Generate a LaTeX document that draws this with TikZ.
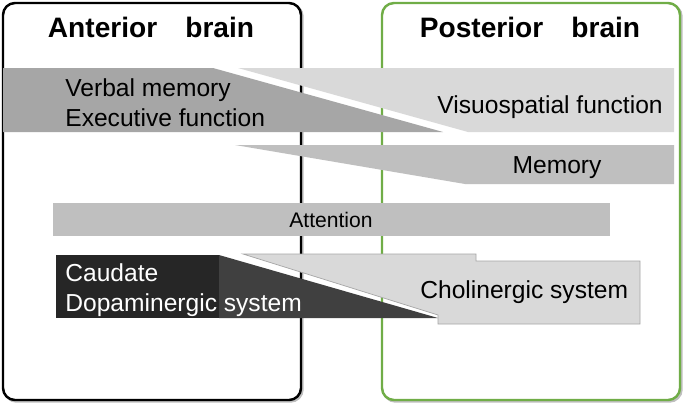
\documentclass[tikz,border=0pt]{standalone}
\usepackage{fontspec}
\setmainfont{Liberation Sans}
\definecolor{boxgreen}{HTML}{70AD47}
\definecolor{grayA}{HTML}{A6A6A6}
\definecolor{grayB}{HTML}{BFBFBF}
\definecolor{grayD}{HTML}{D9D9D9}
\definecolor{darkA}{HTML}{262626}
\definecolor{darkB}{HTML}{404040}
\begin{document}
\begin{tikzpicture}[x=0.02cm, y=-0.02cm,
		region/.style={rounded corners=0.24cm, line width=1.4pt},
		headtxt/.style={font=\fontsize{16}{19}\selectfont\bfseries, anchor=base, inner sep=0pt},
		txt/.style={font=\fontsize{14}{17}\selectfont, inner sep=0pt}]
	\useasboundingbox (0,0) rectangle (685,409);

	% the two halves of the brain
	\draw[region, black!25] (4.5,4.5) rectangle (302.5,401.5);
	\draw[region, black!25] (383.5,4.5) rectangle (681.5,401.5);
	\draw[region, fill=white] (3,3) rectangle (301,400);
	\draw[region, draw=boxgreen, fill=white] (382,3) rectangle (680,400);
	\node[headtxt] (anterior) at (151,37) {Anterior\hspace{1em}brain};
	\node[headtxt] (posterior) at (530,37) {Posterior\hspace{1em}brain};

	% functions
	\fill[grayA] (3,68) -- (213,68) -- (443,132) -- (3,132) -- cycle;
	\fill[grayD] (238,68) -- (674,68) -- (674,132) -- (468,132) -- cycle;
	\fill[grayB] (235,145) -- (674,145) -- (674,184) -- (465,184) -- cycle;
	\fill[grayB] (53,203) rectangle (610,236);

	% systems
	\fill[darkA] (56,255) rectangle (219,318);
	\fill[darkB] (219,255) -- (438,318) -- (219,318) -- cycle;
	\filldraw[fill=grayD, draw=black!35, line width=0.4pt] (243,254) -- (476,254) -- (476,261) -- (640,261) -- (640,324) -- (438,324) -- (438,315) -- cycle;

	\node[txt, anchor=base west] (verbal) at (65,96) {Verbal memory};
	\node[txt, anchor=base west] (executive) at (65,126) {Executive function};
	\node[txt, anchor=base east] (visuo) at (663,113) {Visuospatial function};
	\node[txt, anchor=base] (memory) at (557,173) {Memory};
	\node[txt, font=\fontsize{12}{14}\selectfont, anchor=base] (attention) at (331,227) {Attention};
	\node[txt, white, anchor=base west] (caudate) at (65,281) {Caudate};
	\node[txt, white, anchor=base west] (dopamine) at (65,311) {Dopaminergic system};
	\node[txt, anchor=base west] (cholin) at (420,298) {Cholinergic system};
\end{tikzpicture}
\end{document}
